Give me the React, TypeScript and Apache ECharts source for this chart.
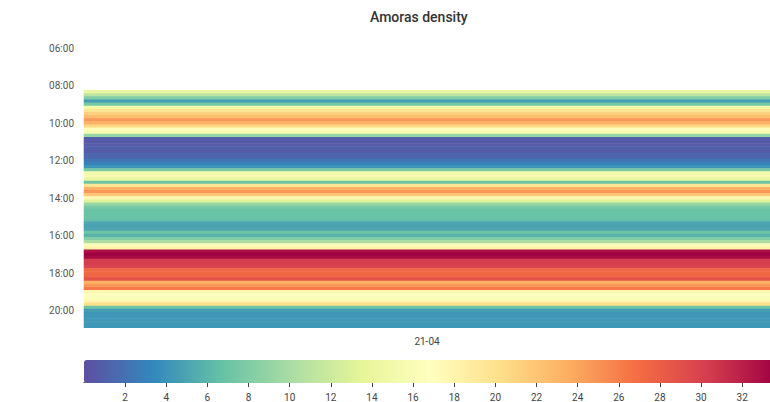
import React, { useEffect, useRef } from "react";
import * as echarts from "echarts";

const title = "Amoras density";
const dayCategories = ["21-04"];

const timeCategories = [
  "06:00", "06:10", "06:20", "06:30", "06:40", "06:50",
  "07:00", "07:10", "07:20", "07:30", "07:40", "07:50",
  "08:00", "08:10", "08:20", "08:30", "08:40", "08:50",
  "09:00", "09:10", "09:20", "09:30", "09:40", "09:50",
  "10:00", "10:10", "10:20", "10:30", "10:40", "10:50",
  "11:00", "11:10", "11:20", "11:30", "11:40", "11:50",
  "12:00", "12:10", "12:20", "12:30", "12:40", "12:50",
  "13:00", "13:10", "13:20", "13:30", "13:40", "13:50",
  "14:00", "14:10", "14:20", "14:30", "14:40", "14:50",
  "15:00", "15:10", "15:20", "15:30", "15:40", "15:50",
  "16:00", "16:10", "16:20", "16:30", "16:40", "16:50",
  "17:00", "17:10", "17:20", "17:30", "17:40", "17:50",
  "18:00", "18:10", "18:20", "18:30", "18:40", "18:50",
  "19:00", "19:10", "19:20", "19:30", "19:40", "19:50",
  "20:00", "20:10", "20:20", "20:30", "20:40", "20:50",
  "21:00",
];

// observed times (10-minute slots) and density values
const densityTimes = [
  "08:20", "08:30", "08:40", "08:50", "09:00", "09:10", "09:20", "09:30", "09:40", "09:50",
  "10:00", "10:10", "10:20", "10:30", "10:40", "10:50", "11:00", "11:10", "11:20", "11:30",
  "11:40", "11:50", "12:00", "12:10", "12:20", "12:30", "12:40", "12:50", "13:00", "13:10",
  "13:20", "13:30", "13:40", "13:50", "14:00", "14:10", "14:20", "14:30", "14:40", "14:50",
  "15:00", "15:10", "15:20", "15:30", "15:40", "15:50", "16:00", "16:10", "16:20", "16:30",
  "16:40", "16:50", "17:00", "17:10", "17:20", "17:30", "17:40", "17:50", "18:00", "18:10",
  "18:20", "18:30", "18:40", "18:50", "19:00", "19:10", "19:20", "19:30", "19:40", "19:50",
  "20:00", "20:10", "20:20", "20:30", "20:40", "20:50",
];
const densityValues = [
  14, 11, 8, 4.5, 7.5, 15, 19.5, 21, 22.5, 24.5,
  23, 20.5, 17, 15.5, 9, 0.8, 0.5, 0.7, 1, 0.6,
  1.2, 1.4, 2.2, 3, 4, 7.5, 15, 15.5, 14, 7,
  19.5, 23, 24.5, 21.5, 17.5, 13, 9, 7.5, 6.8, 6.8,
  6.8, 6.5, 5, 4.8, 5, 7, 5.8, 8, 10, 16,
  18, 32.5, 33.3, 32.8, 30, 30, 29.5, 27, 27, 27.2,
  28.5, 23, 24.5, 26, 17.5, 16.5, 16, 17.5, 20, 7,
  4.5, 4.2, 4.2, 4.2, 4.3, 4.2,
];

const colorMin = 0;
const colorMax = 33.35;
const colorTickInterval = 2;
const spectral = [
  "#5e4fa2", "#3288bd", "#66c2a5", "#abdda4", "#e6f598", "#ffffbf",
  "#fee08b", "#fdae61", "#f46d43", "#d53e4f", "#9e0142",
];

export default function App() {
  const ref = useRef<HTMLDivElement>(null);
  useEffect(() => {
    if (!ref.current) return;
    const chart = echarts.init(ref.current, null, { renderer: "svg" });
    const data = densityTimes.map((t, i) => [0, timeCategories.indexOf(t), densityValues[i]]);
    chart.setOption({
      animation: false,
      title: {
        text: title,
        left: 365,
        top: 5,
        textStyle: { fontFamily: "Roboto", fontSize: 14, fontWeight: 500, color: "#333" },
      },
      grid: [
        { left: 84, right: -6, top: 46.5, bottom: 71 },
        { left: 84, right: -6, top: 360, height: 23 },
      ],
      xAxis: [
        {
          type: "category",
          data: dayCategories,
          gridIndex: 0,
          axisLine: { show: false },
          axisTick: { show: false },
          splitLine: { show: false },
          axisLabel: { fontFamily: "Roboto", fontSize: 10, color: "#444", margin: 5 },
        },
        {
          type: "value",
          gridIndex: 1,
          min: colorMin,
          max: colorMax,
          interval: colorTickInterval,
          position: "bottom",
          axisLine: { show: true, lineStyle: { color: "#444", width: 1 } },
          axisTick: { show: true, length: 5, lineStyle: { color: "#444" } },
          splitLine: { show: false },
          axisLabel: {
            fontFamily: "Roboto",
            fontSize: 10,
            color: "#444",
            margin: 10,
            showMinLabel: false,
            showMaxLabel: false,
          },
        },
      ],
      yAxis: [
        {
          type: "category",
          data: timeCategories,
          gridIndex: 0,
          inverse: true,
          axisLine: { show: false },
          axisTick: { show: false },
          splitLine: { show: false },
          axisLabel: { interval: 11, fontFamily: "Roboto", fontSize: 10, color: "#555", margin: 10 },
        },
        { type: "value", gridIndex: 1, show: false, min: 0, max: 1 },
      ],
      visualMap: {
        type: "continuous",
        min: colorMin,
        max: colorMax,
        orient: "horizontal",
        left: 84,
        top: 360,
        itemWidth: 23,
        itemHeight: 692,
        padding: 0,
        calculable: false,
        hoverLink: false,
        text: null,
        seriesIndex: 0,
        inRange: { color: spectral },
      },
      series: [
        {
          type: "heatmap",
          xAxisIndex: 0,
          yAxisIndex: 0,
          data,
          itemStyle: { borderWidth: 0 },
          emphasis: { disabled: true },
        },
      ],
    });
    return () => chart.dispose();
  }, []);
  return (
    <div
      ref={ref}
      style={{ position: "fixed", left: 0, top: 0, width: 770, height: 402, background: "#fff" }}
    />
  );
}
